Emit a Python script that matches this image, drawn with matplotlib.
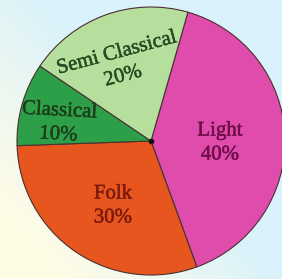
import matplotlib.pyplot as plt
import matplotlib.patheffects as pe
import numpy as np
from matplotlib.colors import to_rgb

categories = ["Light", "Folk", "Classical", "Semi Classical"]
shares = [40, 30, 10, 20]
slice_colors = ["#E04CAC", "#E8561F", "#2E9F49", "#B6DE9C"]
text_colors = ["#6E0E48", "#7E1A0C", "#1C3F1A", "#2A4A22"]

# label anchor (x, y) in pixel-ish coords (y up), rotation in degrees
label_pos = [(220, 136), (113, 73), (59, 156), (120, 214)]
label_rot = [0, 0, -3, 15]

CX, CY, R = 151, 138, 134

fig = plt.figure(figsize=(2.82, 2.79), dpi=100)
ax = fig.add_axes([0, 0, 1, 1])

# soft background: light blue with a cream patch lower left
h, w = 279, 282
yy, xx = np.mgrid[0:h, 0:w]
blue = np.array(to_rgb("#D9F2FB"))
cream = np.array(to_rgb("#FFFCE6"))
t = np.clip(((w - xx) / w) * 1.3 - (yy / h) * 1.1, 0, 1)[..., None]
bg = blue * (1 - t) + cream * t
ax.imshow(bg, extent=(0, 282, 0, 279), origin="lower", zorder=0)

wedges, _ = ax.pie(
    shares,
    colors=slice_colors,
    startangle=74,
    counterclock=False,
    center=(CX, CY),
    radius=R,
    wedgeprops=dict(edgecolor="#4a3030", linewidth=0.8),
    frame=True,
)
ax.set_xlim(0, 282)
ax.set_ylim(0, 279)
ax.set_aspect("equal")
ax.axis("off")
ax.plot(CX, CY, "o", color="#111111", ms=3, zorder=5)

for name, pct, (x, y), rot, col in zip(categories, shares, label_pos, label_rot, text_colors):
    ax.text(
        x, y, f"{name}\n{pct}%",
        ha="center", va="center", rotation=rot, rotation_mode="anchor",
        fontsize=15, family="Liberation Serif", color=col,
        linespacing=1.35, zorder=6,
        path_effects=[pe.withStroke(linewidth=0.35, foreground=col)],
    )

fig.savefig("out.png", dpi=100)
